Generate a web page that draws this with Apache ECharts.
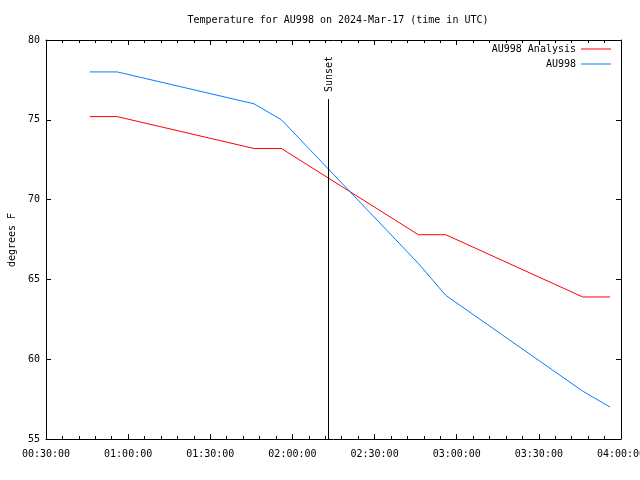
<!DOCTYPE html>
<html>
<head>
<meta charset="utf-8">
<script src="https://cdn.jsdelivr.net/npm/echarts@6/dist/echarts.min.js"></script>
<style>html,body{margin:0;padding:0;background:#fff}#c{width:640px;height:480px}</style>
</head>
<body>
<div id="c"></div>
<script>
const titleText = 'Temperature for AU998 on 2024-Mar-17 (time in UTC)';
const times = ['00:46','00:56','01:46','01:56','02:46','02:56','03:46','03:56'];
const analysisName = 'AU998 Analysis';
const analysisValues = [75.2, 75.2, 73.2, 73.2, 67.8, 67.8, 63.9, 63.9];
const obsName = 'AU998';
const obsValues = [78.0, 78.0, 76.0, 75.0, 66.0, 64.0, 58.0, 57.0];
const sunsetTime = '02:13';
const sunsetLabel = 'Sunset';
const yAxisTitle = 'degrees F';
const xMin = '00:30', xMax = '04:00', xStep = 30;
const yMin = 55, yMax = 80, yStep = 5;

const toMin = s => { const p = s.split(':'); return (+p[0]) * 60 + (+p[1]); };
const pad = n => String(n).padStart(2, '0');
const fmt = v => pad(Math.floor(v / 60)) + ':' + pad(Math.round(v % 60)) + ':00';
const FONT = 'DejaVu Sans Mono';

const chart = echarts.init(document.getElementById('c'), null, {renderer: 'canvas'});
const axisCommon = {
  axisLine: {show: true, lineStyle: {color: '#000', width: 1}},
  splitLine: {show: false},
  axisTick: {show: true, inside: true, length: 5, lineStyle: {color: '#000'}},
};
const xBase = Object.assign({}, axisCommon, {
  type: 'value', min: toMin(xMin), max: toMin(xMax), interval: xStep,
  minorTick: {show: true, splitNumber: 5, length: 3, lineStyle: {color: '#000'}},
  minorSplitLine: {show: false}
});
const yBase = Object.assign({}, axisCommon, {
  type: 'value', min: yMin, max: yMax, interval: yStep
});
const sunsetX = toMin(sunsetTime);

chart.setOption({
  animation: false,
  backgroundColor: '#fff',
  title: {
    text: titleText, left: 333, top: 10, textAlign: 'center',
    textStyle: {fontFamily: FONT, fontSize: 10, fontWeight: 'normal', color: '#000'}
  },
  legend: {
    orient: 'vertical', right: 24, top: 39, align: 'right',
    itemWidth: 30, itemHeight: 10, itemGap: 5,
    textStyle: {fontFamily: FONT, fontSize: 10, color: '#000'},
    data: [{name: analysisName, icon: 'path://M0,0L30,0L30,1L0,1Z'}, {name: obsName, icon: 'path://M0,0L30,0L30,1L0,1Z'}]
  },
  grid: {left: 46, right: 19, top: 40, bottom: 41, containLabel: false, outerBoundsMode: 'none'},
  xAxis: [
    Object.assign({}, xBase, {position: 'bottom',
      axisLabel: {formatter: fmt, margin: 10, fontFamily: FONT, fontSize: 10, color: '#000', showMaxLabel: true}}),
    Object.assign({}, xBase, {position: 'top', axisLabel: {show: false}})
  ],
  yAxis: [
    Object.assign({}, yBase, {position: 'left',
      axisLabel: {margin: 6, fontFamily: FONT, fontSize: 10, color: '#000'}}),
    Object.assign({}, yBase, {position: 'right', axisLabel: {show: false}})
  ],
  series: [
    {
      name: analysisName, type: 'line', symbol: 'none', xAxisIndex: 0, yAxisIndex: 0,
      lineStyle: {color: '#ff0000', width: 1}, itemStyle: {color: '#ff0000'},
      data: times.map((t, i) => [toMin(t), analysisValues[i]]),
      markLine: {
        silent: true, symbol: 'none', animation: false,
        lineStyle: {color: '#000', width: 1, type: 'solid'},
        label: {show: false},
        data: [[{coord: [sunsetX, yMin]}, {coord: [sunsetX, 76.3]}]]
      }
    },
    {
      name: obsName, type: 'line', symbol: 'none', xAxisIndex: 0, yAxisIndex: 0,
      lineStyle: {color: '#0080ff', width: 1}, itemStyle: {color: '#0080ff'},
      data: times.map((t, i) => [toMin(t), obsValues[i]])
    }
  ]
});

const sp = chart.convertToPixel({xAxisIndex: 0, yAxisIndex: 0}, [sunsetX, 76.3]);
chart.setOption({
  graphic: [
    {type: 'text', x: sp[0] + 1, y: sp[1] - 7, rotation: Math.PI / 2,
     style: {text: sunsetLabel, font: '10px ' + FONT, fill: '#000', textAlign: 'left', textVerticalAlign: 'middle'}},
    {type: 'text', x: 12, y: 240, rotation: Math.PI / 2,
     style: {text: yAxisTitle, font: '10px ' + FONT, fill: '#000', textAlign: 'center', textVerticalAlign: 'middle'}}
  ]
});
</script>
</body>
</html>
